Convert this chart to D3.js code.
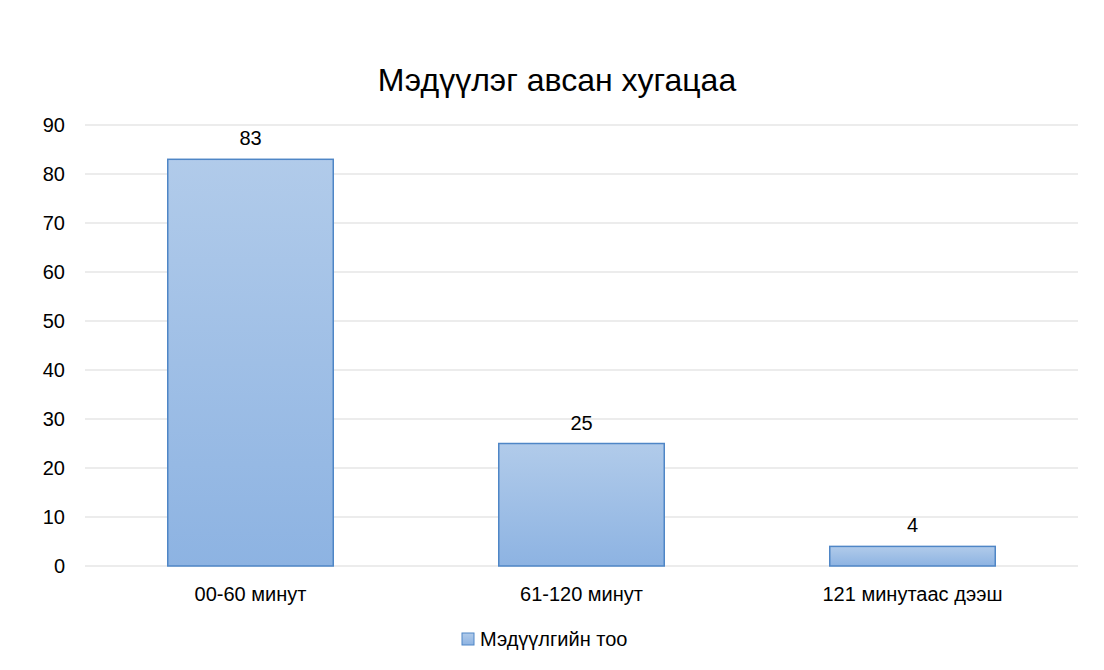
<!DOCTYPE html>
<html><head><meta charset="utf-8">
<script src="https://cdn.jsdelivr.net/npm/d3@7"></script>
<style>body{margin:0;background:#fff}text{font-family:"Liberation Sans",Arial,sans-serif;fill:#000}</style>
</head><body>
<script>
var categories = ["00-60 минут", "61-120 минут", "121 минутаас дээш"];
var values = [83, 25, 4];
var yTicks = [0, 10, 20, 30, 40, 50, 60, 70, 80, 90];
var seriesName = "Мэдүүлгийн тоо";

var w = 1104, h = 670;
var plotLeft = 85, plotRight = 1078, plotTop = 125, plotBottom = 566;

var svg = d3.select("body").append("svg").attr("width", w).attr("height", h);

var defs = svg.append("defs");
var grad = defs.append("linearGradient").attr("id", "bar").attr("x1", 0).attr("y1", 0).attr("x2", 0).attr("y2", 1);
grad.append("stop").attr("offset", "0%").attr("stop-color", "#b1cbea");
grad.append("stop").attr("offset", "100%").attr("stop-color", "#8db3e2");

var x = d3.scaleBand().domain(categories).range([plotLeft, plotRight]).paddingInner(0.5).paddingOuter(0.25);
var y = d3.scaleLinear().domain([0, 90]).range([plotBottom, plotTop]);

// grid
svg.selectAll("line.grid").data(yTicks).enter().append("line")
    .attr("x1", plotLeft).attr("x2", plotRight)
    .attr("y1", function(d) { return y(d); }).attr("y2", function(d) { return y(d); })
    .attr("stroke", "#d9d9d9").attr("stroke-width", 1);

svg.selectAll("text.ytick").data(yTicks).enter().append("text")
    .attr("x", 65).attr("y", function(d) { return y(d); }).attr("dy", "0.35em")
    .attr("text-anchor", "end").style("font-size", "20px").text(function(d) { return d; });

// bars
svg.selectAll("rect.bar").data(values).enter().append("rect")
    .attr("x", function(d, i) { return x(categories[i]); })
    .attr("width", x.bandwidth())
    .attr("y", function(d) { return y(d); })
    .attr("height", function(d) { return y(0) - y(d); })
    .attr("fill", "url(#bar)").attr("stroke", "#4f86c6").attr("stroke-width", 1.5);

svg.selectAll("text.val").data(values).enter().append("text")
    .attr("x", function(d, i) { return x(categories[i]) + x.bandwidth() / 2; })
    .attr("y", function(d) { return y(d) - 14; })
    .attr("text-anchor", "middle").style("font-size", "20px").text(function(d) { return d; });

svg.selectAll("text.cat").data(categories).enter().append("text")
    .attr("x", function(d) { return x(d) + x.bandwidth() / 2; })
    .attr("y", 601).attr("text-anchor", "middle").style("font-size", "20px").text(function(d) { return d; });

svg.append("text").attr("x", 557).attr("y", 91).attr("text-anchor", "middle")
    .style("font-size", "32px").text("Мэдүүлэг авсан хугацаа");

// legend
svg.append("rect").attr("x", 462).attr("y", 633).attr("width", 12).attr("height", 12)
    .attr("fill", "url(#bar)").attr("stroke", "#4f86c6");
svg.append("text").attr("x", 480).attr("y", 639).attr("dy", "0.35em")
    .style("font-size", "20px").text(seriesName);
</script>
</body></html>
